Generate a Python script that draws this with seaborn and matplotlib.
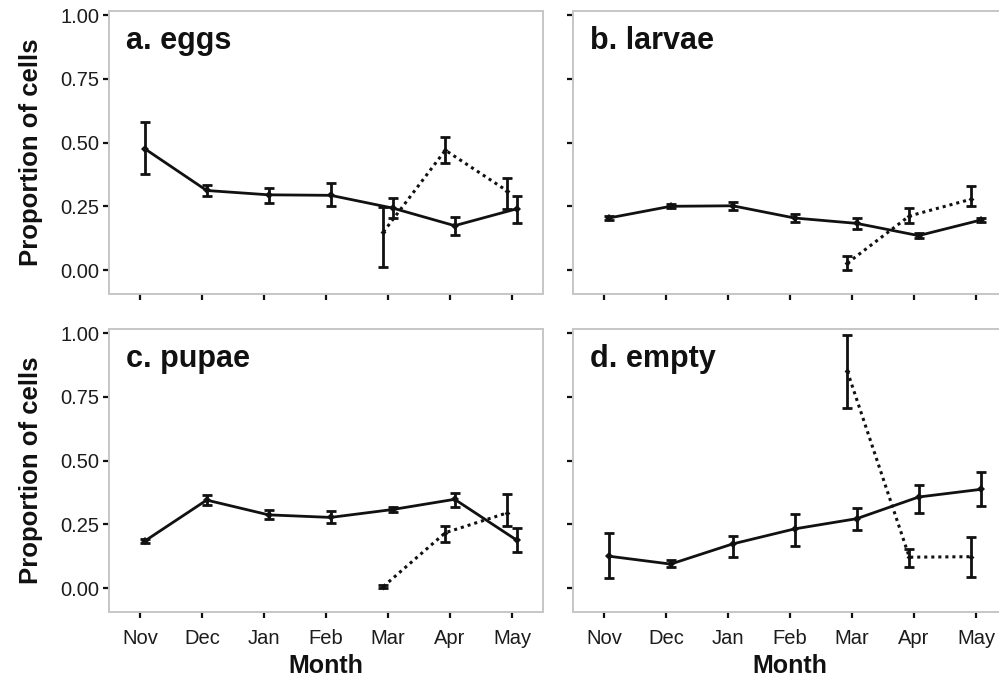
import numpy as np
import pandas as pd
import matplotlib
matplotlib.use("Agg")
import matplotlib.pyplot as plt
import seaborn as sns

# ---- data -------------------------------------------------------------
months = ["Nov", "Dec", "Jan", "Feb", "Mar", "Apr", "May"]
late_months = ["Mar", "Apr", "May"]
panel_titles = ["a. eggs", "b. larvae", "c. pupae", "d. empty"]
y_ticks = [0.00, 0.25, 0.50, 0.75, 1.00]

# full-season series (solid line): mean, lower and upper interval
eggs_mean = [0.476, 0.312, 0.295, 0.293, 0.243, 0.174, 0.240]
eggs_lo = [0.377, 0.289, 0.262, 0.250, 0.204, 0.138, 0.186]
eggs_hi = [0.579, 0.335, 0.322, 0.342, 0.283, 0.207, 0.290]

larvae_mean = [0.204, 0.250, 0.252, 0.204, 0.183, 0.135, 0.196]
larvae_lo = [0.196, 0.242, 0.237, 0.190, 0.162, 0.124, 0.188]
larvae_hi = [0.212, 0.258, 0.267, 0.220, 0.206, 0.147, 0.204]

pupae_mean = [0.184, 0.345, 0.287, 0.277, 0.308, 0.348, 0.188]
pupae_lo = [0.176, 0.324, 0.270, 0.255, 0.300, 0.316, 0.143]
pupae_hi = [0.192, 0.363, 0.305, 0.302, 0.316, 0.374, 0.234]

empty_mean = [0.125, 0.094, 0.173, 0.232, 0.272, 0.357, 0.387]
empty_lo = [0.038, 0.081, 0.121, 0.164, 0.226, 0.295, 0.322]
empty_hi = [0.217, 0.108, 0.206, 0.289, 0.315, 0.403, 0.455]

# late-season series (dotted line), Mar to May only
eggs_late_mean = [0.149, 0.470, 0.310]
eggs_late_lo = [0.012, 0.420, 0.240]
eggs_late_hi = [0.247, 0.520, 0.360]

larvae_late_mean = [0.027, 0.212, 0.278]
larvae_late_lo = [0.000, 0.184, 0.250]
larvae_late_hi = [0.055, 0.243, 0.330]

pupae_late_mean = [0.006, 0.217, 0.295]
pupae_late_lo = [0.002, 0.182, 0.245]
pupae_late_hi = [0.012, 0.245, 0.368]

empty_late_mean = [0.850, 0.121, 0.123]
empty_late_lo = [0.705, 0.084, 0.045]
empty_late_hi = [0.993, 0.154, 0.200]

full_series = [
    (eggs_mean, eggs_lo, eggs_hi),
    (larvae_mean, larvae_lo, larvae_hi),
    (pupae_mean, pupae_lo, pupae_hi),
    (empty_mean, empty_lo, empty_hi),
]
late_series = [
    (eggs_late_mean, eggs_late_lo, eggs_late_hi),
    (larvae_late_mean, larvae_late_lo, larvae_late_hi),
    (pupae_late_mean, pupae_late_lo, pupae_late_hi),
    (empty_late_mean, empty_late_lo, empty_late_hi),
]

# ---- style ------------------------------------------------------------
sns.set_theme(style="white")
plt.rcParams["font.family"] = ["Liberation Sans", "DejaVu Sans"]

INK = "#111111"
FRAME = "#c6c6c6"
W, H = 999, 679

fig = plt.figure(figsize=(W / 100, H / 100), dpi=100)
boxes = [
    (109, 294, 434, 283),
    (573, 294, 434, 283),
    (109, 612, 434, 283),
    (573, 612, 434, 283),
]
axes = [fig.add_axes([l / W, 1 - b / H, w / W, h / H]) for (l, b, w, h) in boxes]

month_pos = {m: i for i, m in enumerate(months)}
DODGE = 0.075


def frame_for(mean, lo, hi, labels, shift, group):
    return pd.DataFrame({
        "month": labels,
        "x": [month_pos[m] + shift for m in labels],
        "mean": mean,
        "lo": lo,
        "hi": hi,
        "group": group,
    })


for i, ax in enumerate(axes):
    full = frame_for(*full_series[i], months, DODGE, "all")
    late = frame_for(*late_series[i], late_months, -DODGE, "late")

    sns.lineplot(data=full, x="x", y="mean", ax=ax, color=INK, lw=2.0,
                 marker="D", markersize=4, markeredgewidth=0, sort=False)
    sns.lineplot(data=late, x="x", y="mean", ax=ax, color=INK, lw=2.2,
                 linestyle=(0, (1.0, 1.3)), marker="D", markersize=3,
                 markeredgewidth=0, sort=False)

    for df in (full, late):
        ax.errorbar(df["x"], df["mean"],
                    yerr=[df["mean"] - df["lo"], df["hi"] - df["mean"]],
                    fmt="none", ecolor=INK, elinewidth=2.0, capsize=3.6,
                    capthick=2.0, zorder=3)

    ax.set_xlim(-0.5, 6.5)
    ax.set_ylim(-0.094, 1.016)
    ax.set_xticks(range(len(months)))
    ax.set_yticks(y_ticks)
    ax.set_yticklabels([f"{v:.2f}" for v in y_ticks])
    ax.set_xticklabels(months)
    ax.set_xlabel("")
    ax.set_ylabel("")

    for sp in ax.spines.values():
        sp.set_visible(True)
        sp.set_color(FRAME)
        sp.set_linewidth(1.4)

    ax.tick_params(axis="both", which="major", direction="out", length=4,
                   width=1.6, color=INK, labelsize=14.5, labelcolor="#1c1c1c",
                   left=True, bottom=True)
    ax.tick_params(axis="y", pad=3)
    ax.tick_params(axis="x", pad=8)

    if i in (0, 1):
        ax.tick_params(axis="x", labelbottom=False)
    else:
        ax.set_xlabel("Month", fontsize=18, fontweight="bold", color=INK)
        ax.xaxis.set_label_coords(0.5, -0.148)
    if i in (1, 3):
        ax.tick_params(axis="y", labelleft=False)
    else:
        ax.set_ylabel("Proportion of cells", fontsize=18.5, fontweight="bold",
                      color=INK)
        ax.yaxis.set_label_coords(-0.152, 0.5)

    ax.text(0.039, 0.865, panel_titles[i], transform=ax.transAxes,
            fontsize=22, fontweight="bold", color=INK, va="baseline",
            ha="left")

fig.savefig("out.png", dpi=100)
